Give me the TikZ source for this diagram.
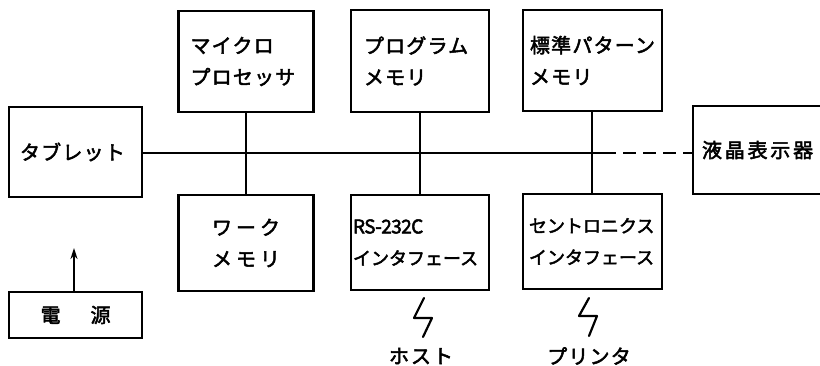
\documentclass[tikz,border=0pt]{standalone}
\usepackage{fontspec}
\newfontfamily\jp{Noto Sans CJK JP}[LetterSpace=6,FakeBold=2.5]
\usetikzlibrary{arrows.meta}
\newcommand{\wide}{\addfontfeature{LetterSpace=6}}
\newcommand{\narr}{\fontsize{18}{31.5}\selectfont\addfontfeature{LetterSpace=0}}
\begin{document}
\begin{tikzpicture}[x=1pt,y=-1pt,
  box/.style={draw, line width=2.2pt, inner sep=0pt, align=left,
    font=\jp\fontsize{20}{31.5}\selectfont},
  lbl/.style={inner sep=0pt, font=\jp\fontsize{20}{22}\selectfont},
  wire/.style={line width=2pt},
  bolt/.style={line width=2.2pt, line join=round, line cap=round}]
\useasboundingbox (0,0) rectangle (820,366);
\clip (0,0) rectangle (820,366);
% boxes
\node[box, minimum width=133pt, minimum height=90pt, text width=111pt] (tab) at (75.5,152) {\wide タブレット};
\node[box, minimum width=135pt, minimum height=101pt, text width=111pt] (mpu) at (246,61.5) {\wide マイクロ\\プロセッサ};
\node[box, minimum width=138pt, minimum height=102pt, text width=112pt] (prog) at (420,61) {\wide プログラム\\メモリ};
\node[box, minimum width=139pt, minimum height=101pt, text width=125pt] (std) at (592.5,60.5) {\wide 標準パターン\\メモリ};
\node[box, minimum width=160pt, minimum height=88pt, text width=142pt] (lcd) at (773,150) {\addfontfeature{LetterSpace=14}液晶表示器};
\node[box, minimum width=135pt, minimum height=96pt, align=center] (work) at (246,243) {\wide ワ\hspace{4pt}ー\hspace{4pt}ク\\メ\hspace{4pt}モ\hspace{4pt}リ};
\node[box, minimum width=138pt, minimum height=95pt, text width=134pt] (rs) at (420,242.5) {\narr{\addfontfeature{LetterSpace=-3}\fontsize{19}{31.5}\selectfont RS-232C}\\インタフェース};
\node[box, minimum width=139pt, minimum height=95pt, text width=127pt] (cen) at (592.5,241.5) {\narr セントロニクス\\インタフェース};
\node[box, minimum width=133pt, minimum height=46pt, align=center] (pwr) at (75.5,315) {電\hspace{30pt}源};
% bus
\coordinate (j1) at (246,153);
\coordinate (j2) at (420,153);
\coordinate (j3) at (592,153);
\coordinate (je) at (603,153);
\draw[wire] (tab.east |- j1) -- (je);
\draw[wire, dash pattern=on 13pt off 7pt] (je) -- (lcd.west |- je);
\draw[wire] (mpu.south) -- (work.north);
\draw[wire] (prog.south) -- (rs.north);
\draw[wire] (std.south -| j3) -- (cen.north -| j3);
% power arrow
\coordinate (pa) at (74,248);
\draw[wire, -{Stealth[length=11pt,width=7pt]}] (pwr.north -| pa) -- (pa);
% bolts
\coordinate (b1) at (424,298);
\coordinate (b2) at (589,298);
\draw[bolt] (b1) -- ++(-10,20) -- ++(18,0) -- ++(-9,19);
\draw[bolt] (b2) -- ++(-10,18) -- ++(18,0) -- ++(-8,20);
\node[lbl] (host) at (421,356) {ホ\hspace{2pt}ス\hspace{2pt}ト};
\node[lbl] (prn) at (589,356) {プリンタ};
\end{tikzpicture}
\end{document}
